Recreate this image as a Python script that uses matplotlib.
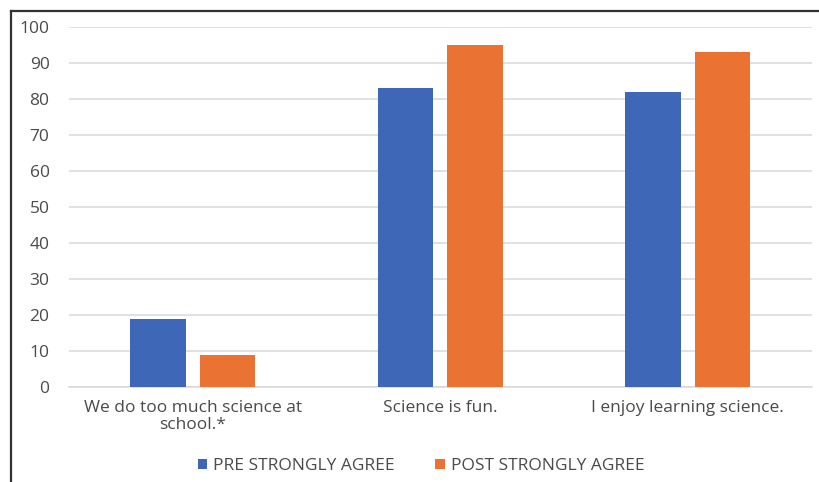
import matplotlib
matplotlib.use("Agg")
import matplotlib.pyplot as plt
from matplotlib.patches import Patch
from matplotlib.lines import Line2D
import numpy as np

categories = ["We do too much science at\nschool.*", "Science is fun.", "I enjoy learning science."]
pre_values = [19, 83, 82]
post_values = [9, 95, 93]
series_names = ["PRE STRONGLY AGREE", "POST STRONGLY AGREE"]
y_ticks = [0, 10, 20, 30, 40, 50, 60, 70, 80, 90, 100]

blue = "#3F67B8"
orange = "#EA7232"
text_grey = "#4A4A4A"

plt.rcParams["font.family"] = ["Open Sans", "DejaVu Sans"]

W, H = 819, 482
fig = plt.figure(figsize=(W / 100, H / 100), dpi=100)
ax = fig.add_axes([69 / W, 95 / H, (811.5 - 69) / W, 360 / H])

x = np.arange(len(categories))
width = 0.224
offset = 0.141
ax.bar(x - offset, pre_values, width, color=blue, zorder=3)
ax.bar(x + offset, post_values, width, color=orange, zorder=3)

ax.set_xlim(-0.5, len(categories) - 0.5)
ax.set_ylim(0, 100)
ax.set_yticks(y_ticks)
ax.set_yticklabels([str(v) for v in y_ticks])
ax.set_xticks(x)
ax.set_xticklabels(categories)

ax.yaxis.grid(True, color="#D9D9D9", linewidth=1.1, zorder=0)
ax.set_axisbelow(True)
for side in ["top", "right", "left"]:
    ax.spines[side].set_visible(False)
ax.spines["bottom"].set_color("#D9D9D9")
ax.spines["bottom"].set_linewidth(1.1)

ax.tick_params(axis="y", length=0, pad=14, labelsize=12.5, labelcolor=text_grey)
ax.tick_params(axis="x", length=0, pad=9, labelsize=12.5, labelcolor=text_grey)
for lbl in ax.get_xticklabels():
    lbl.set_linespacing(1.15)

handles = [Patch(facecolor=blue, edgecolor="none"), Patch(facecolor=orange, edgecolor="none")]
fig.legend(handles, series_names, loc="center", bbox_to_anchor=(421 / W, 16 / H),
           ncol=2, frameon=False, fontsize=12.5, labelcolor=text_grey,
           handlelength=0.55, handleheight=0.55, handletextpad=0.35, columnspacing=2.3)

# frame lines along the left and top edges
fig.add_artist(Line2D([10.5 / W, 10.5 / W], [0, (H - 10.5) / H], transform=fig.transFigure,
                      color="#333333", linewidth=1.6))
fig.add_artist(Line2D([10.5 / W, 1], [(H - 10.5) / H, (H - 10.5) / H], transform=fig.transFigure,
                      color="#333333", linewidth=1.6))

fig.savefig("out.png", dpi=100)
